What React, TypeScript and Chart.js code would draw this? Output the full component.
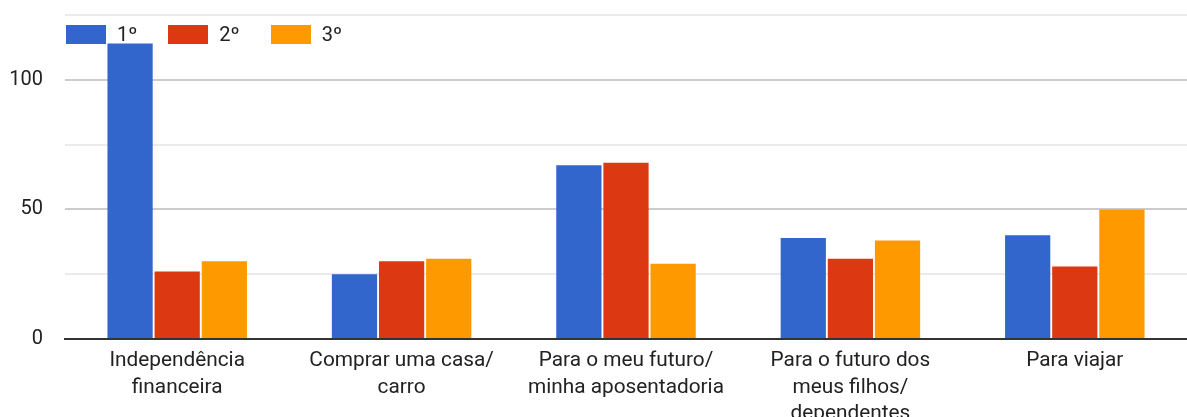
import React, { useEffect, useRef } from "react";
import { Chart, registerables } from "chart.js";

Chart.register(...registerables);

const categories: (string | string[])[] = [
  ["Independência", "financeira"],
  ["Comprar uma casa/", "carro"],
  ["Para o meu futuro/", "minha aposentadoria"],
  ["Para o futuro dos", "meus filhos/", "dependentes"],
  ["Para viajar"],
];
const seriesNames = ["1º", "2º", "3º"];
const seriesColors = ["#3366cc", "#dc3912", "#ff9900"];
const first = [114, 25, 67, 39, 40];
const second = [26, 30, 68, 31, 28];
const third = [30, 31, 29, 38, 50];
const yTicks = [0, 50, 100];

const W = 1187;
const H = 417;

export default function App() {
  const ref = useRef<HTMLCanvasElement | null>(null);

  useEffect(() => {
    if (!ref.current) return;
    Chart.defaults.font.family = "Roboto";
    const values = [first, second, third];
    const chart = new Chart(ref.current, {
      type: "bar",
      data: {
        labels: categories,
        datasets: values.map((v, i) => ({
          label: seriesNames[i],
          data: v,
          backgroundColor: seriesColors[i],
          borderWidth: 0,
          categoryPercentage: 0.63,
          barPercentage: 0.96,
        })),
      },
      options: {
        animation: false,
        responsive: false,
        layout: { padding: { top: 15, right: 0, left: 0, bottom: 0 } },
        plugins: {
          legend: { display: false },
          tooltip: { enabled: false },
        },
        scales: {
          x: {
            z: 1,
            grid: { display: false },
            border: { display: true, color: "#333", width: 2 },
            ticks: {
              color: "#222",
              font: { size: 20.8, lineHeight: 1.27 },
              padding: 1,
              maxRotation: 0,
              autoSkip: false,
            },
            afterFit: (scale: any) => {
              scale.height = 78;
              scale.paddingLeft = 0;
              scale.paddingRight = 0;
            },
          },
          y: {
            min: 0,
            max: 125,
            border: { display: false },
            grid: {
              drawTicks: false,
              color: (ctx: any) => {
                const v = ctx.tick ? ctx.tick.value : 0;
                if (v === 0) return "rgba(0,0,0,0)";
                return v % 50 === 0 ? "#cccccc" : "#ebebeb";
              },
              lineWidth: 2,
            },
            ticks: {
              stepSize: 25,
              color: "#222",
              font: { size: 20 },
              padding: 22,
              callback: (v: any) => (yTicks.includes(Number(v)) ? String(v) : ""),
            },
            afterFit: (scale: any) => {
              scale.width = 65;
              scale.paddingTop = 0;
              scale.paddingBottom = 0;
            },
          },
        },
      },
    });
    return () => chart.destroy();
  }, []);

  return (
    <div style={{ position: "absolute", left: 0, top: 0, width: W, height: H, overflow: "hidden" }}>
      <canvas ref={ref} width={W} height={H} style={{ display: "block" }} />
      <div
        style={{
          position: "absolute",
          left: 66,
          top: 25,
          display: "flex",
          alignItems: "center",
          fontFamily: "Roboto",
          fontSize: 20,
          color: "#222",
          lineHeight: "19px",
        }}
      >
        {seriesNames.map((n, i) => (
          <div key={n} style={{ display: "flex", alignItems: "center", marginRight: 31 }}>
            <div style={{ width: 40, height: 19, background: seriesColors[i], marginRight: 11 }} />
            <span>{n}</span>
          </div>
        ))}
      </div>
    </div>
  );
}
